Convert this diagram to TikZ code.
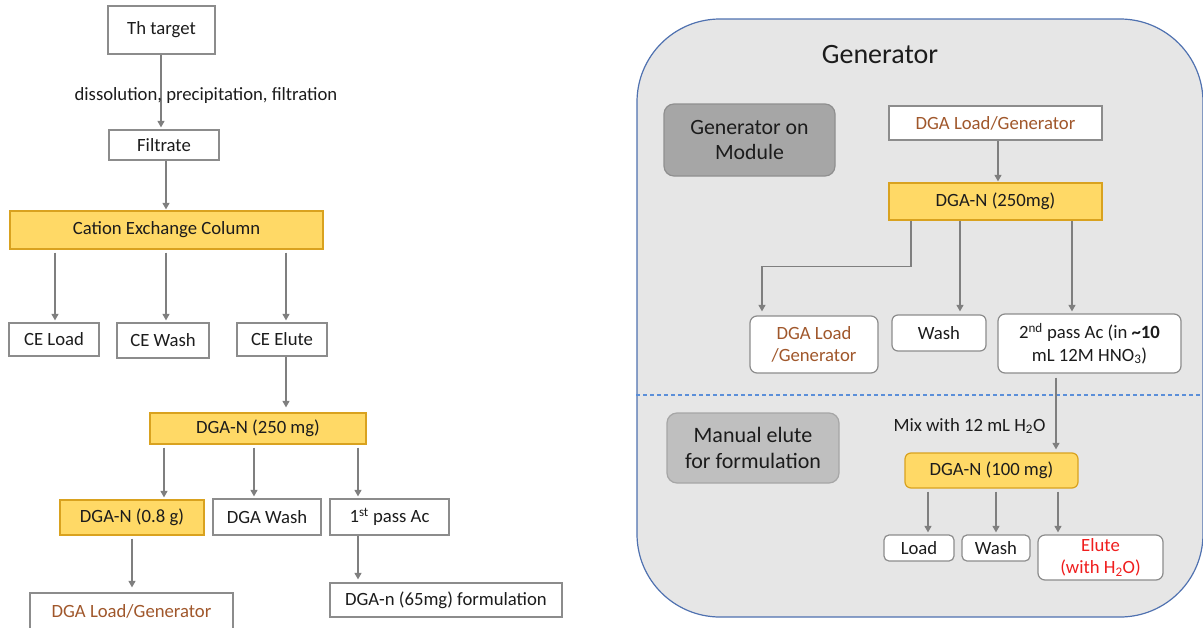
\documentclass[tikz,border=0pt]{standalone}
\usepackage{fontspec}
\setmainfont{Carlito}
\usetikzlibrary{arrows.meta,calc}
\definecolor{txt}{HTML}{1C1C1C}
\definecolor{boxgray}{HTML}{8C8C8C}
\definecolor{arrgray}{HTML}{7F7F7F}
\definecolor{yellowf}{HTML}{FFD966}
\definecolor{goldb}{HTML}{D9A21F}
\definecolor{brn}{HTML}{A0572B}
\definecolor{redt}{HTML}{F01E1E}
\definecolor{contgray}{HTML}{E6E6E6}
\definecolor{contblue}{HTML}{4F71B0}
\definecolor{dashblue}{HTML}{5B8FD9}
\definecolor{modfill}{HTML}{A6A6A6}
\definecolor{modborder}{HTML}{8F8F8F}
\definecolor{manfill}{HTML}{BFBFBF}
\definecolor{manborder}{HTML}{A6A6A6}
\begin{document}
\begin{tikzpicture}[x=1pt,y=-1pt,
  font=\fontsize{18.7}{22.4}\selectfont, text=txt,
  box/.style={draw=boxgray, line width=1.2pt, fill=white, inner sep=0pt, align=center},
  ybox/.style={box, draw=goldb, fill=yellowf},
  rbox/.style={box, rounded corners=7pt},
  arr/.style={draw=arrgray, line width=1.2pt, -{Triangle[width=7pt,length=6.5pt]}},
  arrl/.style={arr, shorten <=3pt, shorten >=2pt},
]
\useasboundingbox (0,0) rectangle (1203,627);

% ---------------- left flow ----------------
\node[box, minimum width=107pt, minimum height=48pt] (th) at (161.5,30) {Th target};
\node[box, minimum width=110pt, minimum height=30pt] (filt) at (164,145) {Filtrate};
\node[ybox, minimum width=313pt, minimum height=38pt] (cec) at (166.5,230) {Cation Exchange Column};
\node[box, minimum width=90pt, minimum height=33pt] (ceload) at (54,339.5) {CE Load};
\node[box, minimum width=92pt, minimum height=35pt] (cewash) at (163,340.5) {CE Wash};
\node[box, minimum width=90pt, minimum height=33pt] (ceelute) at (282,339.5) {CE Elute};
\node[ybox, minimum width=216pt, minimum height=31pt] (dga250) at (258,428.5) {DGA-N (250 mg)};
\node[ybox, minimum width=144pt, minimum height=35pt] (dga08) at (132,517.5) {DGA-N (0.8 g)};
\node[box, minimum width=108pt, minimum height=36pt] (dgawash) at (267,517) {DGA Wash};
\node[box, minimum width=119pt, minimum height=36pt] (pass1) at (389.5,517) {1\textsuperscript{st} pass Ac};
\node[box, minimum width=203pt, minimum height=36pt, text=brn] (dlg) at (131.5,611) {DGA Load/Generator};
\node[box, minimum width=232pt, minimum height=34pt] (form) at (446,600) {DGA-n (65mg) formulation};

\draw[arr, shorten >=2pt] ([xshift=-0.5pt]th.south) -- ([xshift=-0.5pt]th.south |- filt.north);
\node (lbl) at (206,96) {dissolution, precipitation, filtration};
\draw[arr, shorten >=1pt] ([xshift=2pt]filt.south) -- ([xshift=2pt]filt.south |- cec.north);
\draw[arrl] ([xshift=1pt]ceload.north |- cec.south) -- ([xshift=1pt]ceload.north);
\draw[arrl] ([xshift=3pt]cewash.north |- cec.south) -- ([xshift=3pt]cewash.north);
\draw[arrl] ([xshift=4pt]ceelute.north |- cec.south) -- ([xshift=4pt]ceelute.north);
\draw[arr, shorten >=5pt] ([xshift=4pt]ceelute.south) -- ([xshift=4pt]ceelute.south |- dga250.north);
\draw[arrl] ([xshift=-94pt]dga250.south) -- ([xshift=-94pt]dga250.south |- dga08.north);
\draw[arrl] ([xshift=-4pt]dga250.south) -- ([xshift=-4pt]dga250.south |- dgawash.north);
\draw[arrl] ([xshift=100pt]dga250.south) -- ([xshift=100pt]dga250.south |- pass1.north);
\draw[arr, shorten <=3pt, shorten >=5pt] (dga08.south) -- (dga08.south |- dlg.north);
\draw[arr, shorten >=3pt] ([xshift=-31.5pt]pass1.south) -- ([xshift=-31.5pt]pass1.south |- form.north);

% ---------------- right panel ----------------
\node[draw=contblue, fill=contgray, line width=1.2pt, rounded corners=83pt,
      minimum width=566pt, minimum height=598pt, inner sep=0pt] (gen) at (920,318) {};
\draw[dashblue, line width=1.1pt, dash pattern=on 4pt off 3pt] (gen.west |- 0,395) -- (gen.east |- 0,395);
\node[font=\fontsize{28}{33}\selectfont] (title) at (880,55) {Generator};

\node[draw=modborder, fill=modfill, line width=1.2pt, rounded corners=10pt, align=center,
      minimum width=171pt, minimum height=72pt, inner sep=0pt,
      font=\fontsize{21.8}{25}\selectfont] (module) at (749.5,140) {Generator on\\Module};
\node[draw=manborder, fill=manfill, line width=1.2pt, rounded corners=10pt, align=center,
      minimum width=172pt, minimum height=70pt, inner sep=0pt,
      font=\fontsize{22}{25.5}\selectfont] (manual) at (753,448) {Manual elute\\for formulation};

\node[box, minimum width=213pt, minimum height=34pt, text=brn] (dlgT) at (995.5,123) {DGA Load/Generator};
\node[ybox, minimum width=213pt, minimum height=37pt] (dgaR) at (995.5,201.5) {DGA-N (250mg)};
\node[rbox, minimum width=128pt, minimum height=57pt, text=brn] (dlg2) at (814,344.5) {DGA Load\\/Generator};
\node[rbox, minimum width=94pt, minimum height=36pt, rounded corners=6pt] (wash1) at (939,333) {Wash};
\node[rbox, minimum width=183pt, minimum height=59pt] (pass2) at (1089.5,343.5)
  {2\textsuperscript{nd} pass Ac (in \textbf{\textasciitilde 10}\\mL 12M HNO\textsubscript{3})};
\node[ybox, rounded corners=6pt, minimum width=173pt, minimum height=35pt] (dga100) at (991.5,470.5) {DGA-N (100 mg)};
\node (mix) at (969.5,426) {Mix with 12 mL H\textsubscript{2}O};
\node[rbox, rounded corners=5pt, minimum width=70pt, minimum height=26pt] (load) at (919,548) {Load};
\node[rbox, rounded corners=5pt, minimum width=68pt, minimum height=26pt] (wash2) at (996,548) {Wash};
\node[rbox, minimum width=125pt, minimum height=45pt, text=redt] (elute) at (1100.5,557.5) {Elute\\(with H\textsubscript{2}O)};

\draw[arr, shorten >=1pt] ([xshift=2.5pt]dlgT.south) -- ([xshift=2.5pt]dlgT.south |- dgaR.north);
\draw[arr, shorten >=4pt] ([xshift=-84.5pt]dgaR.south) -- ++(0,46) -| ([xshift=-52pt]dlg2.north);
\draw[arr, shorten >=3pt] ([xshift=-35.5pt]dgaR.south) -- ([xshift=-35.5pt]dgaR.south |- wash1.north);
\draw[arr, shorten >=2pt] ([xshift=76.5pt]dgaR.south) -- ([xshift=76.5pt]dgaR.south |- pass2.north);
\draw[arr, shorten <=4pt, shorten >=3pt] ([xshift=-33.5pt]pass2.south) -- ([xshift=-33.5pt]pass2.south |- dga100.north);
\draw[arrl] ([xshift=-63.5pt]dga100.south) -- ([xshift=-63.5pt]dga100.south |- load.north);
\draw[arrl] ([xshift=4.5pt]dga100.south) -- ([xshift=4.5pt]dga100.south |- wash2.north);
\draw[arrl] ([xshift=66.5pt]dga100.south) -- ([xshift=66.5pt]dga100.south |- elute.north);
\end{tikzpicture}
\end{document}
